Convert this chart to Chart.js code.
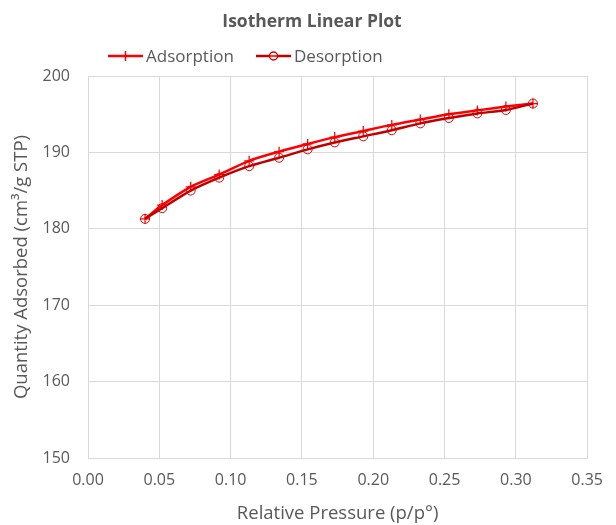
<!DOCTYPE html>
<html>
<head>
<meta charset="utf-8">
<script src="https://cdn.jsdelivr.net/npm/chart.js@4/dist/chart.umd.min.js"></script>
<style>
  html, body { margin: 0; padding: 0; background: #ffffff; }
  #wrap { width: 616px; height: 525px; }
</style>
</head>
<body>
<div id="wrap"><canvas id="c" width="616" height="525"></canvas></div>
<script>
// Relative pressure (p/p°) for each measured point
const pressureAds = [0.040, 0.052, 0.072, 0.092, 0.113, 0.134, 0.154, 0.173, 0.193, 0.213, 0.233, 0.253, 0.273, 0.293, 0.312];
const pressureDes = [0.040, 0.052, 0.072, 0.092, 0.113, 0.134, 0.154, 0.173, 0.193, 0.213, 0.233, 0.253, 0.273, 0.293, 0.312];
// Quantity adsorbed (cm³/g STP)
const adsorption = [181.3, 183.1, 185.5, 187.1, 188.9, 190.1, 191.1, 192.0, 192.8, 193.6, 194.3, 195.0, 195.5, 196.0, 196.4];
const desorption = [181.3, 182.7, 185.0, 186.7, 188.2, 189.3, 190.4, 191.3, 192.1, 192.9, 193.8, 194.5, 195.1, 195.55, 196.4];

const xTicks = [0, 0.05, 0.10, 0.15, 0.20, 0.25, 0.30, 0.35];
const yTicks = [150, 160, 170, 180, 190, 200];

const chartTitle = 'Isotherm Linear Plot';
const seriesNames = ['Adsorption', 'Desorption'];
const xTitle = 'Relative Pressure (p/p°)';
const yTitle = 'Quantity Adsorbed (cm³/g STP)';

const ADS_COLOR = '#FF0000';
const DES_COLOR = '#C00000';
const TEXT = '#595959';
const FONT = '"Open Sans", "Liberation Sans", sans-serif';

function toPoints(xs, ys) { return xs.map((x, i) => ({ x: x, y: ys[i] })); }

// Title and line-with-marker legend drawn above the plot area
const headerPlugin = {
  id: 'header',
  afterDraw(chart) {
    const ctx = chart.ctx;
    ctx.save();
    ctx.fillStyle = TEXT;
    ctx.textBaseline = 'middle';
    ctx.textAlign = 'center';
    ctx.font = 'bold 17.5px ' + FONT;
    ctx.fillText(chartTitle, 312, 22);

    ctx.font = '17px ' + FONT;
    ctx.textAlign = 'left';
    const items = [
      { name: seriesNames[0], color: ADS_COLOR, x0: 108, style: 'cross' },
      { name: seriesNames[1], color: DES_COLOR, x0: 256, style: 'circle' }
    ];
    const ly = 56;
    items.forEach(it => {
      ctx.strokeStyle = it.color;
      ctx.lineWidth = 2.5;
      ctx.beginPath();
      ctx.moveTo(it.x0, ly);
      ctx.lineTo(it.x0 + 35, ly);
      ctx.stroke();
      const cx = it.x0 + 17.5;
      ctx.lineWidth = 1.5;
      if (it.style === 'cross') {
        ctx.beginPath();
        ctx.moveTo(cx, ly - 5); ctx.lineTo(cx, ly + 5);
        ctx.stroke();
      } else {
        ctx.beginPath();
        ctx.arc(cx, ly, 4, 0, Math.PI * 2);
        ctx.fillStyle = '#ffffff';
        ctx.fill();
        ctx.strokeStyle = '#E00000';
        ctx.stroke();
        ctx.beginPath();
        ctx.moveTo(cx - 4, ly); ctx.lineTo(cx + 4, ly);
        ctx.stroke();
      }
      ctx.fillStyle = TEXT;
      ctx.fillText(it.name, it.x0 + 38, ly + 1);
    });
    ctx.restore();
  }
};

new Chart(document.getElementById('c'), {
  type: 'scatter',
  data: {
    datasets: [
      {
        label: seriesNames[1],
        data: toPoints(pressureDes, desorption),
        showLine: true,
        borderColor: DES_COLOR,
        borderWidth: 2.5,
        tension: 0.25,
        pointStyle: 'circle',
        pointRadius: 4.5,
        pointBorderWidth: 1,
        pointBorderColor: '#E00000',
        pointBackgroundColor: 'rgba(0,0,0,0)'
      },
      {
        label: seriesNames[0],
        data: toPoints(pressureAds, adsorption),
        showLine: true,
        borderColor: ADS_COLOR,
        borderWidth: 2.5,
        tension: 0.25,
        pointStyle: 'cross',
        pointRadius: 5,
        pointBorderWidth: 1.25,
        pointBorderColor: ADS_COLOR,
        pointBackgroundColor: ADS_COLOR
      }
    ]
  },
  options: {
    responsive: false,
    animation: false,
    layout: { padding: { top: 76, right: 28, left: 0, bottom: 0 } },
    plugins: {
      legend: { display: false },
      title: { display: false },
      tooltip: { enabled: false }
    },
    scales: {
      x: {
        type: 'linear',
        min: xTicks[0],
        max: xTicks[xTicks.length - 1],
        afterBuildTicks: s => { s.ticks = xTicks.map(v => ({ value: v })); },
        afterFit: s => { s.height = 67; },
        grid: { color: '#D9D9D9', lineWidth: 1, drawTicks: false },
        border: { color: '#D9D9D9', width: 1 },
        ticks: {
          color: TEXT,
          font: { family: FONT, size: 16 },
          padding: 13,
          maxRotation: 0,
          callback: v => v.toFixed(2)
        },
        title: {
          display: true,
          text: xTitle,
          color: TEXT,
          font: { family: FONT, size: 18.5 },
          padding: { top: 4, bottom: 0 }
        }
      },
      y: {
        type: 'linear',
        min: yTicks[0],
        max: yTicks[yTicks.length - 1],
        afterBuildTicks: s => { s.ticks = yTicks.map(v => ({ value: v })); },
        afterFit: s => { s.width = 88; },
        grid: { color: '#D9D9D9', lineWidth: 1, drawTicks: false },
        border: { color: '#D9D9D9', width: 1 },
        ticks: {
          color: TEXT,
          font: { family: FONT, size: 16 },
          padding: 18
        },
        title: {
          display: true,
          text: yTitle,
          color: TEXT,
          font: { family: FONT, size: 18.5 },
          padding: { top: 10.5, bottom: 0 }
        }
      }
    }
  },
  plugins: [headerPlugin]
});
</script>
</body>
</html>
